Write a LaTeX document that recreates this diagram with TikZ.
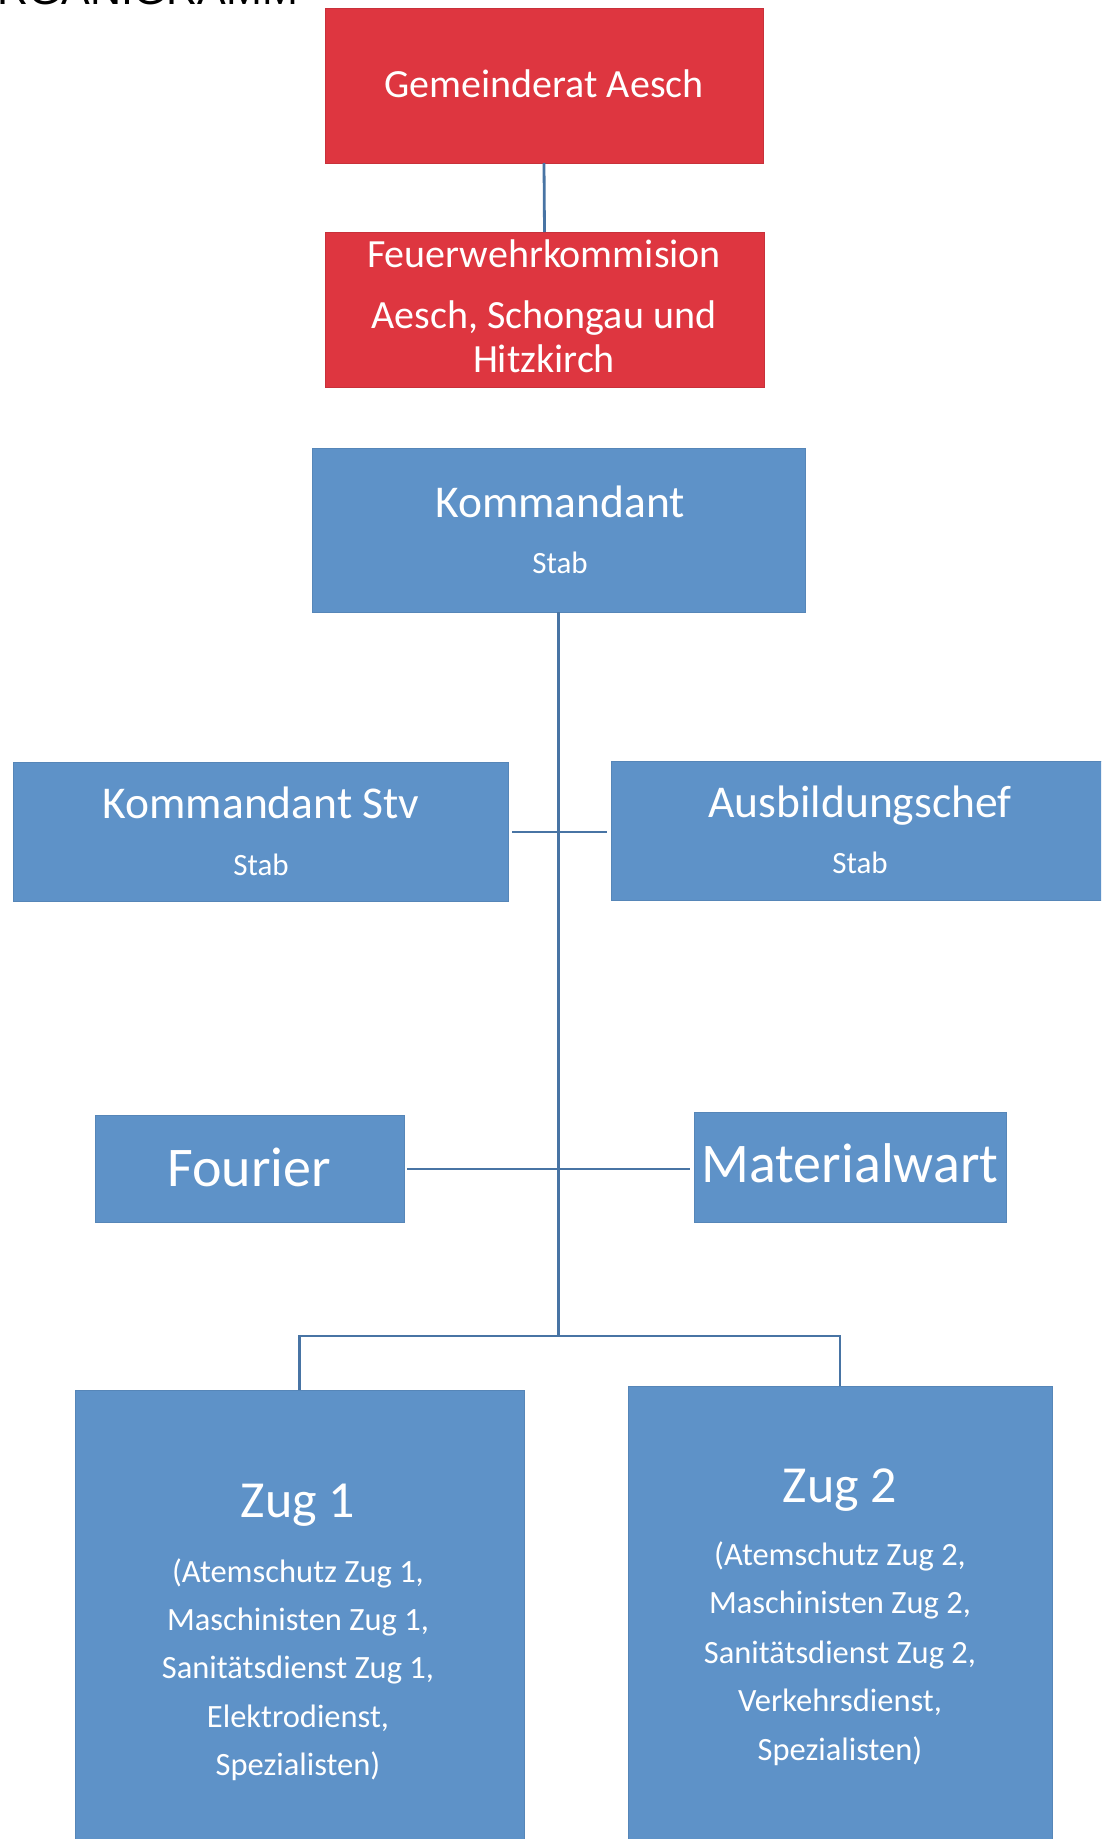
\documentclass[tikz,border=0pt]{standalone}
\usepackage{fontspec}
\setmainfont{Carlito}
\newfontfamily\titlefont{Liberation Sans}
\definecolor{boxred}{RGB}{222,54,64}
\definecolor{boxblue}{RGB}{94,146,200}
\definecolor{linkblue}{RGB}{72,116,164}
\tikzset{
  redbox/.style={fill=boxred, draw=boxred!90!black, line width=0.8pt, inner sep=0pt, outer sep=0pt},
  bluebox/.style={fill=boxblue, draw=boxblue!92!black, line width=0.8pt, inner sep=0pt, outer sep=0pt},
  txt/.style={text=white, inner sep=0pt, anchor=base},
  link/.style={draw=linkblue, line width=2.8pt},
  fbig/.style={font=\fontsize{56}{62}\selectfont},
  fhead/.style={font=\fontsize{45.5}{52}\selectfont},
  fred/.style={font=\fontsize{40}{46}\selectfont},
  fzug/.style={font=\fontsize{52}{58}\selectfont},
  fsmall/.style={font=\fontsize{32.5}{38}\selectfont},
  fstab/.style={font=\fontsize{31}{36}\selectfont},
}
\begin{document}
\begin{tikzpicture}[x=1pt,y=1pt]
\useasboundingbox (0,0) rectangle (1101,-1839);
\clip (0,0) rectangle (1101,-1839);
\fill[white] (0,0) rectangle (1101,-1839);

% title (cut off at top, as in the reference)
\node[inner sep=0pt, anchor=base west, font=\titlefont\fontsize{43}{50}\selectfont, text=black] (title) at (-3,-5) {RGANIGRAMM};

% boxes
\node[redbox, minimum width=438, minimum height=155] (gr) at (544,-85.5) {};
\node[redbox, minimum width=439, minimum height=155] (fk) at (544.5,-309.5) {};
\node[bluebox, minimum width=493, minimum height=164] (km) at (558.5,-530) {};
\node[bluebox, minimum width=495, minimum height=139] (stv) at (260.5,-832) {};
\node[bluebox, minimum width=499, minimum height=139] (ausb) at (860.5,-830.5) {};
\node[bluebox, minimum width=309, minimum height=107] (fo) at (249.5,-1169) {};
\node[bluebox, minimum width=312, minimum height=110] (mw) at (850,-1167) {};
\node[bluebox, minimum width=449, minimum height=470] (z1) at (299.5,-1625) {};
\node[bluebox, minimum width=424, minimum height=474] (z2) at (840,-1623) {};

% connectors
\coordinate (hub) at (560,-1336);
\draw[link] (gr.south) -- (fk.north);
\draw[link] (km.south) -- (km.south |- hub);
\draw[link, shorten <=4pt, shorten >=4pt] (stv.east) -- (stv.east -| ausb.west);
\draw[link, shorten <=3pt, shorten >=4pt] (fo.east) -- (fo.east -| mw.west);
\draw[link] (z1.north) -- (z1.north |- hub) -- (z2.north |- hub) -- (z2.north);

% texts
\node[txt, fred] (t-gr) at (544,-97) {Gemeinderat Aesch};
\node[txt, fred] (t-fk1) at (544,-267) {Feuerwehrkommision};
\node[txt, fred] (t-fk2) at (544,-328) {Aesch, Schongau und};
\node[txt, fred] (t-fk3) at (544,-372) {Hitzkirch};

\node[txt, fhead] (t-km) at (560,-517) {Kommandant};
\node[txt, fstab] (t-km2) at (560,-573) {Stab};
\node[txt, fhead] (t-stv) at (261,-818) {Kommandant Stv};
\node[txt, fstab] (t-stv2) at (261,-875) {Stab};
\node[txt, fhead] (t-ausb) at (860,-817) {Ausbildungschef};
\node[txt, fstab] (t-ausb2) at (860,-873) {Stab};

\node[txt, fbig] (t-fo) at (249,-1186) {Fourier};
\node[txt, fbig] (t-mw) at (850,-1182) {Materialwart};

\node[txt, fzug] (t-z1) at (298,-1517) {Zug 1};
\node[txt, fsmall] (t-z1a) at (298,-1582) {(Atemschutz Zug 1,};
\node[txt, fsmall] (t-z1b) at (298,-1630) {Maschinisten Zug 1,};
\node[txt, fsmall] (t-z1c) at (298,-1678) {Sanitätsdienst Zug 1,};
\node[txt, fsmall] (t-z1d) at (298,-1727) {Elektrodienst,};
\node[txt, fsmall] (t-z1e) at (298,-1775) {Spezialisten)};

\node[txt, fzug] (t-z2) at (840,-1502) {Zug 2};
\node[txt, fsmall] (t-z2a) at (840,-1565) {(Atemschutz Zug 2,};
\node[txt, fsmall] (t-z2b) at (840,-1613) {Maschinisten Zug 2,};
\node[txt, fsmall] (t-z2c) at (840,-1663) {Sanitätsdienst Zug 2,};
\node[txt, fsmall] (t-z2d) at (840,-1711) {Verkehrsdienst,};
\node[txt, fsmall] (t-z2e) at (840,-1760) {Spezialisten)};
\end{tikzpicture}
\end{document}
